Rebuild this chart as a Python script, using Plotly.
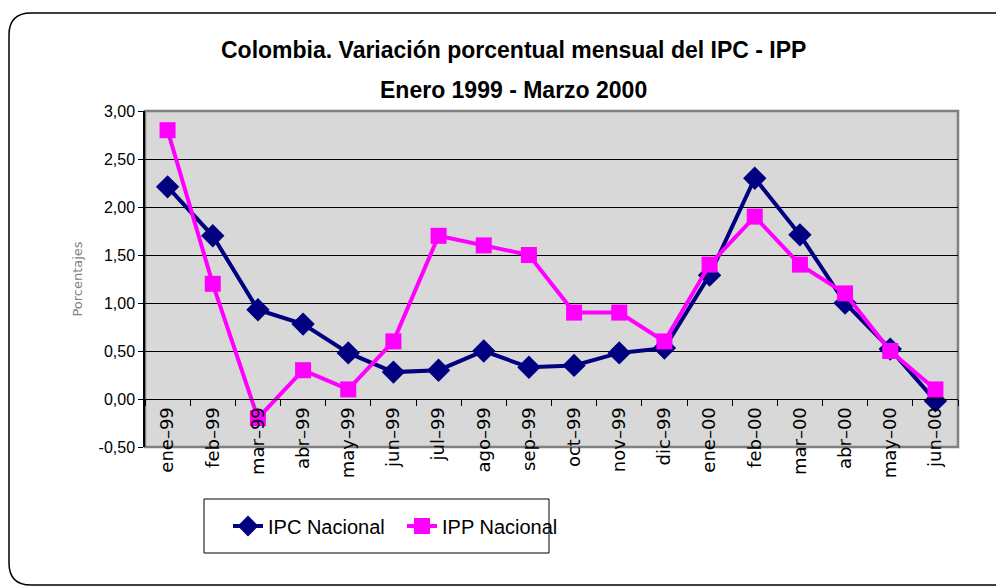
import plotly.graph_objects as go

meses = ["ene–99", "feb–99", "mar–99", "abr–99", "may–99", "jun–99", "jul–99", "ago–99",
         "sep–99", "oct–99", "nov–99", "dic–99", "ene–00", "feb–00", "mar–00", "abr–00",
         "may–00", "jun–00"]
ipc_nacional = [2.21, 1.70, 0.93, 0.78, 0.48, 0.28, 0.30, 0.50, 0.33, 0.35, 0.48, 0.53,
                1.29, 2.30, 1.71, 1.00, 0.52, -0.02]
ipp_nacional = [2.80, 1.20, -0.20, 0.30, 0.10, 0.60, 1.70, 1.60, 1.50, 0.90, 0.90, 0.60,
                1.40, 1.90, 1.40, 1.10, 0.50, 0.10]
y_ticks = [-0.5, 0.0, 0.5, 1.0, 1.5, 2.0, 2.5, 3.0]
y_tick_labels = ["-0,50", "0,00", "0,50", "1,00", "1,50", "2,00", "2,50", "3,00"]
title_line1 = "Colombia. Variación porcentual mensual del IPC - IPP"
title_line2 = "Enero 1999 - Marzo 2000"

OFF = 8  # page body margin
W, H = 1004 - OFF, 586 - OFF
# plot area in reference (window) pixels
PL, PR, PT, PB = 145, 958, 111, 447
L, T = PL - OFF, PT - OFF
R, B = W - (PR - OFF), H - (PB - OFF)
pw, ph = PR - PL, PB - PT
y_min, y_max = -0.5, 3.0


def px(x):
    return (x - PL) / pw


def py(y):
    return (PB - y) / ph


fig = go.Figure()
fig.add_trace(go.Scatter(
    x=meses, y=ipc_nacional, name="IPC Nacional", mode="lines+markers",
    line=dict(color="#000080", width=4),
    marker=dict(symbol="diamond", size=18, color="#000080"),
))
fig.add_trace(go.Scatter(
    x=meses, y=ipp_nacional, name="IPP Nacional", mode="lines+markers",
    line=dict(color="#FF00FF", width=4),
    marker=dict(symbol="square", size=16, color="#FF00FF"),
))

# outer rounded border
x0, x1, y0, y1, rr = 9, 1018, 13, 585, 22
path = (f"M {px(x0+rr)},{py(y0)} L {px(x1-rr)},{py(y0)} Q {px(x1)},{py(y0)} {px(x1)},{py(y0+rr)} "
        f"L {px(x1)},{py(y1-rr)} Q {px(x1)},{py(y1)} {px(x1-rr)},{py(y1)} "
        f"L {px(x0+rr)},{py(y1)} Q {px(x0)},{py(y1)} {px(x0)},{py(y1-rr)} "
        f"L {px(x0)},{py(y0+rr)} Q {px(x0)},{py(y0)} {px(x0+rr)},{py(y0)} Z")
shapes = [
    dict(type="path", path=path, xref="paper", yref="paper",
         line=dict(color="#000000", width=1.5), layer="below"),
    dict(type="rect", xref="paper", yref="paper", x0=0, x1=1, y0=0, y1=1,
         line=dict(color="#808080", width=2.5), layer="below"),
    # legend box
    dict(type="rect", xref="paper", yref="paper", x0=px(204), x1=px(549), y0=py(553), y1=py(499),
         line=dict(color="#000000", width=1), fillcolor="white", layer="below"),
]

annotations = [
    dict(text=f"<b>{title_line1}</b>", xref="paper", yref="paper", x=px(513), y=py(50),
         xanchor="center", yanchor="middle", showarrow=False,
         font=dict(family="Liberation Sans", size=23, color="#000000")),
    dict(text=f"<b>{title_line2}</b>", xref="paper", yref="paper", x=px(513), y=py(90),
         xanchor="center", yanchor="middle", showarrow=False,
         font=dict(family="Liberation Sans", size=23, color="#000000")),
]

zero_pos = (0 - y_min) / (y_max - y_min)

fig.update_layout(
    width=W, height=H,
    margin=dict(l=L, r=R, t=T, b=B, autoexpand=False),
    paper_bgcolor="white",
    plot_bgcolor="#d8d8d8",
    showlegend=True,
    xaxis=dict(
        type="category", anchor="free", position=zero_pos,
        range=[-0.5, len(meses) - 0.5],
        showgrid=False, showline=True, linecolor="#000000", linewidth=1,
        ticks="outside", ticklen=6, tickcolor="#000000", tickson="boundaries",
        tickangle=-90,
        tickfont=dict(family="DejaVu Sans", size=18, color="#000000"),
        zeroline=False,
    ),
    yaxis=dict(
        range=[y_min, y_max], tickvals=y_ticks, ticktext=y_tick_labels,
        showgrid=True, gridcolor="#000000", gridwidth=1,
        showline=True, linecolor="#000000", linewidth=1.5,
        ticks="outside", ticklen=5, tickcolor="#000000",
        tickfont=dict(family="Liberation Sans", size=16, color="#000000"),
        zeroline=True, zerolinecolor="#000000", zerolinewidth=1,
        title=dict(text="Porcentajes", standoff=13,
                   font=dict(family="DejaVu Sans", size=13, color="#808080")),
    ),
    legend=dict(
        orientation="h", x=px(228), y=py(526), xanchor="left", yanchor="middle",
        bgcolor="rgba(0,0,0,0)", borderwidth=0,
        font=dict(family="Liberation Sans", size=20, color="#000000"),
        entrywidth=129, itemwidth=30,
    ),
    shapes=shapes,
    annotations=annotations,
)

fig.write_html("out.html")
